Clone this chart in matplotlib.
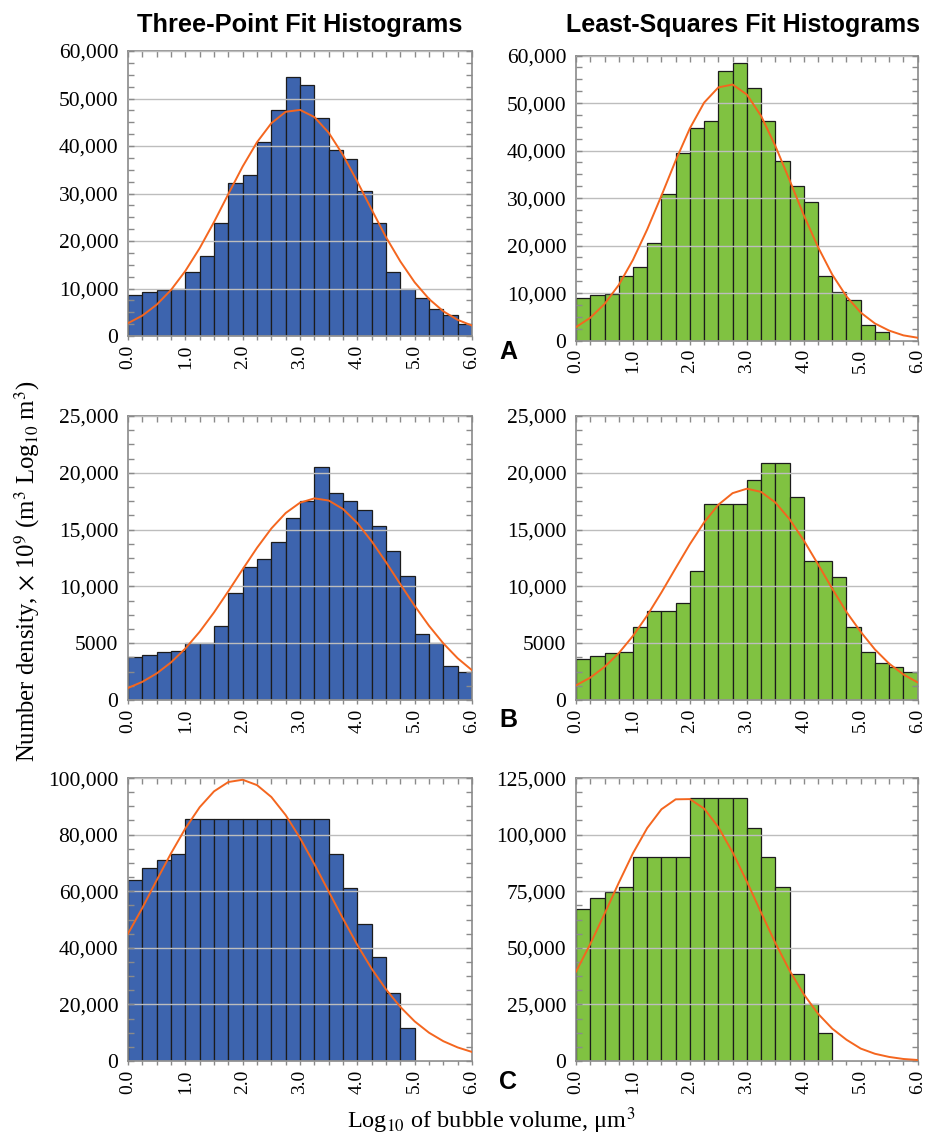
import numpy as np
import matplotlib
matplotlib.use("Agg")
import matplotlib.pyplot as plt
from matplotlib.ticker import MultipleLocator, FuncFormatter

plt.rcParams['font.family'] = 'serif'
plt.rcParams['font.serif'] = ['Liberation Serif', 'DejaVu Serif']
plt.rcParams['mathtext.fontset'] = 'stix'

BLUE = '#3d64ae'
GREEN = '#80c241'
ORANGE = '#f4661f'
SPINE = '#8a8a8a'

# histogram counts, one value per 0.25-wide bin from 0.0 to 6.0
a_three = [8700, 9300, 9600, 10000, 13400, 16800, 23700, 32200, 34000, 40900, 47600, 54500,
           52800, 46000, 39100, 37300, 30600, 23700, 13400, 10000, 8100, 5700, 4500, 2600]
a_least = [8900, 9500, 9900, 13700, 15400, 20500, 30800, 39500, 44700, 46300, 56700, 58500,
           53100, 46300, 37700, 32600, 29200, 13700, 10200, 8600, 3300, 1900, 0, 0]
b_three = [3800, 4000, 4200, 4300, 5000, 5000, 6500, 9400, 11700, 12400, 13900, 16000,
           17500, 20500, 18200, 17500, 16700, 15300, 13100, 10900, 5800, 5000, 3000, 2500]
b_least = [3600, 3900, 4150, 4200, 6400, 7800, 7800, 8500, 11400, 17250, 17250, 17250,
           19400, 20900, 20900, 17900, 12200, 12200, 10800, 6400, 4200, 3250, 2900, 2450]
c_three = [63900, 68200, 71200, 73100, 85500, 85500, 85500, 85500, 85500, 85500, 85500, 85500,
           85500, 85500, 73100, 61100, 48500, 36700, 24100, 11700, 0, 0, 0, 0]
c_least = [67000, 71800, 74800, 76800, 90000, 90000, 90000, 90000, 116100, 116100, 116100, 116100,
           103100, 90000, 76800, 38400, 25200, 12200, 0, 0, 0, 0, 0, 0]

# fitted curves, read at every bin edge (0.0, 0.25, ... 6.0)
a_three_fit = [2700, 4300, 6600, 9700, 13700, 18500, 24000, 29900, 35700, 40800, 44800, 47200, 47600,
               46100, 42800, 38100, 32500, 26600, 20800, 15700, 11300, 7800, 5200, 3400, 2200]
a_least_fit = [2850, 4800, 7700, 11700, 17000, 23400, 30500, 37900, 44700, 50100, 53300, 53900, 51800,
               47300, 41000, 33800, 26400, 19700, 13900, 9300, 5900, 3600, 2100, 1100, 600]
b_three_fit = [1060, 1600, 2340, 3310, 4530, 6010, 7710, 9580, 11510, 13400, 15100, 16460, 17370,
               17750, 17560, 16810, 15580, 13970, 12130, 10190, 8290, 6530, 4980, 3670, 2620]
b_least_fit = [1290, 1970, 2910, 4120, 5640, 7440, 9470, 11610, 13720, 15640, 17190, 18210, 18600,
               18320, 17390, 15920, 14050, 11950, 9800, 7750, 6000, 4450, 3200, 2250, 1550]
c_three_fit = [45000, 54100, 63900, 73400, 82200, 89700, 95300, 98600, 99400, 97500, 93300, 86900, 78800,
               69600, 59900, 50300, 41000, 32600, 25300, 19100, 14000, 10000, 7000, 4800, 3200]
c_least_fit = [39500, 51700, 65000, 78700, 91800, 102900, 111200, 115600, 115700, 111500, 103300, 92200,
               79300, 65600, 52200, 40000, 29500, 20900, 14300, 9400, 5500, 3200, 1800, 900, 450]

y_limits = [60000, 25000, 125000]
y_steps = [10000, 5000, 25000]
y_limits_left = [60000, 25000, 100000]
y_steps_left = [10000, 5000, 20000]
panel_letters = ['A', 'B', 'C']

edges = np.linspace(0, 6, 25)


def count_fmt(v, pos):
    v = int(round(v))
    return f"{v:,}" if v >= 10000 else str(v)


def draw_panel(fig, rect, counts, fit, color, ymax, step):
    ax = fig.add_axes(rect)
    heights = np.array(counts)
    keep = heights > 0
    ax.bar(edges[:-1][keep], heights[keep], width=0.25, align='edge',
           color=color, edgecolor='#1c1c1c', linewidth=0.9, zorder=1)
    ax.plot(edges, fit, color=ORANGE, lw=1.4, zorder=3)

    ax.set_xlim(0, 6)
    ax.set_ylim(0, ymax)
    ax.yaxis.set_major_locator(MultipleLocator(step))
    ax.yaxis.set_minor_locator(MultipleLocator(step / 4))
    ax.yaxis.set_major_formatter(FuncFormatter(count_fmt))
    ax.xaxis.set_major_locator(MultipleLocator(1))
    ax.xaxis.set_minor_locator(MultipleLocator(0.25))
    ax.xaxis.set_major_formatter(FuncFormatter(lambda v, p: f"{v:.1f}"))

    ax.yaxis.grid(True, color='#bdbdbd', lw=1.0)
    ax.set_axisbelow(False)
    for s in ax.spines.values():
        s.set_color(SPINE)
        s.set_linewidth(1.2)
    ax.spines['top'].set_visible(False)

    ax.tick_params(axis='y', which='both', direction='in', left=True, right=True,
                   length=4, width=1, color=SPINE, labelsize=15.5, pad=7)
    ax.tick_params(axis='x', which='both', direction='out', bottom=True, top=False,
                   length=3, width=1, color=SPINE, labelsize=14, pad=3, labelrotation=90)

    top = ax.secondary_xaxis('top')
    top.xaxis.set_major_locator(MultipleLocator(0.25))
    top.tick_params(direction='in', length=4, width=1, color=SPINE, labeltop=False)
    top.spines['top'].set_color(SPINE)
    top.spines['top'].set_linewidth(1.2)
    return ax


fig = plt.figure(figsize=(9.27, 11.41), dpi=100)

rows = [(0.7055, 0.2498), (0.3865, 0.2489), (0.0701, 0.2480)]
left_x, right_x, width = 0.1381, 0.6214, 0.3685

three_counts = [a_three, b_three, c_three]
least_counts = [a_least, b_least, c_least]
three_fits = [a_three_fit, b_three_fit, c_three_fit]
least_fits = [a_least_fit, b_least_fit, c_least_fit]

for i, (bottom, height) in enumerate(rows):
    draw_panel(fig, [left_x, bottom, 0.3711, height], three_counts[i], three_fits[i],
               BLUE, y_limits_left[i], y_steps_left[i])
    rb = bottom - 0.004 if i == 0 else bottom
    draw_panel(fig, [right_x, rb, width, height], least_counts[i], least_fits[i],
               GREEN, y_limits[i], y_steps[i])

letter_y = [0.6915, 0.369, 0.0517]
for letter, ly in zip(panel_letters, letter_y):
    fig.text(0.548, ly, letter, family='Liberation Sans', fontweight='bold',
             fontsize=18, ha='center', va='center')

fig.text(0.3236, 0.978, 'Three-Point Fit Histograms', family='Liberation Sans',
         fontweight='bold', fontsize=18.3, ha='center', va='center')
fig.text(0.802, 0.978, 'Least-Squares Fit Histograms', family='Liberation Sans',
         fontweight='bold', fontsize=18, ha='center', va='center')

fig.text(0.029, 0.499, r'Number density, $\times$ 10$^{9}$ (m$^{3}$ Log$_{10}$ m$^{3}$)',
         rotation=90, fontsize=17.8, ha='center', va='center')
fig.text(0.530, 0.0045, r'Log$_{10}$ of bubble volume, μm$^{3}$',
         fontsize=17.5, ha='center', va='bottom')

fig.savefig('out.png', dpi=100)
